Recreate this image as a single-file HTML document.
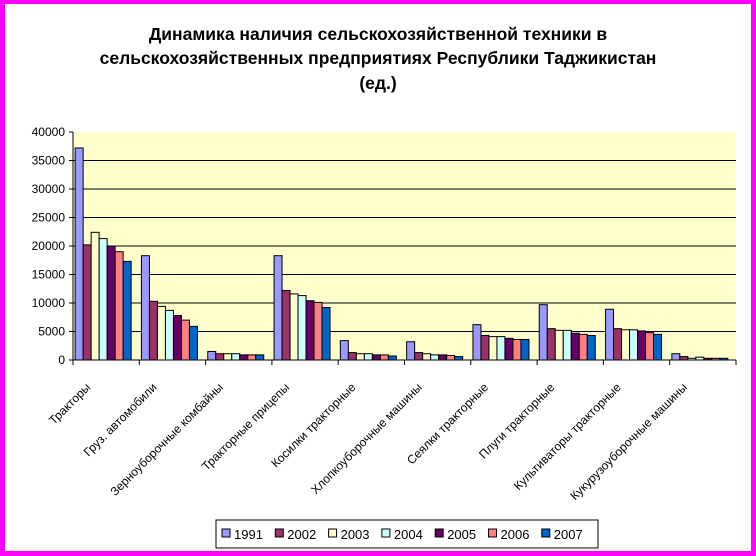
<!DOCTYPE html>
<html><head><meta charset="utf-8"><style>
body{margin:0;background:#fff}
#wrap{position:relative;width:756px;height:556px;box-sizing:border-box;border:5px solid #ff00ff;border-top-width:4px;background:#fff;font-family:"Liberation Sans",Arial,sans-serif}
</style></head><body>
<div id="wrap">
<svg id="chart" width="746" height="548" style="position:absolute;left:0;top:0"></svg>
</div>
<script>
const categories=["Тракторы","Груз. автомобили","Зерноуборочные комбайны","Тракторные прицепы","Косилки тракторные","Хлопкоуборочные машины","Сеялки тракторные","Плуги тракторные","Культиваторы тракторные","Кукурузоуборочные машины"];
const years=["1991","2002","2003","2004","2005","2006","2007"];
const colors=["#9999ff","#993366","#ffffcc","#ccffff","#660066","#ff8080","#0066cc"];
const yTicks=[0,5000,10000,15000,20000,25000,30000,35000,40000];
const s1991=[37200,18300,1500,18300,3400,3200,6200,9700,8900,1100];
const s2002=[20200,10300,1100,12200,1300,1300,4300,5500,5500,600];
const s2003=[22400,9400,1100,11600,1100,1100,4100,5200,5300,300];
const s2004=[21300,8700,1100,11300,1100,900,4100,5200,5300,500];
const s2005=[20000,7800,900,10400,900,900,3800,4700,5100,300];
const s2006=[19000,7000,900,10100,900,800,3600,4500,4800,300];
const s2007=[17300,5900,900,9200,700,600,3600,4300,4500,300];
const series=[s1991,s2002,s2003,s2004,s2005,s2006,s2007];

const NS="http://www.w3.org/2000/svg";
const svg=document.getElementById('chart');
const ox=-5, oy=-4;
const X0=73+ox, X1=736+ox, Y0=360+oy, Y1=132+oy, YMAX=40000;
const y=v=>Y0-(v/YMAX)*(Y0-Y1);
const gw=(X1-X0)/categories.length;
const x=i=>X0+i*gw;
function el(t,a,txt){const e=document.createElementNS(NS,t);for(const k in a)e.setAttribute(k,a[k]);if(txt!==undefined)e.textContent=txt;svg.appendChild(e);return e;}

const title=el('text',{x:378+ox,y:40+oy,'text-anchor':'middle','font-size':'17.5','font-weight':'bold',fill:'#000'});


[["Динамика наличия  сельскохозяйственной техники в",40],["сельскохозяйственных предприятиях  Республики Таджикистан",64],["(ед.)",89]].forEach(([t,yy])=>{const ts=document.createElementNS(NS,'tspan');ts.setAttribute('x',378+ox);ts.setAttribute('y',yy+oy);ts.textContent=t;title.appendChild(ts);});

const bg=el('rect',{x:X0,y:Y1,width:X1-X0,height:Y0-Y1,fill:'#ffffcc'});



yTicks.forEach(v=>{
  if(v>0&&v<YMAX){const g=el('line',{x1:X0,x2:X1,y1:y(v),y2:y(v),stroke:'#000','stroke-width':1});
  
  }
  const tk=el('line',{x1:X0-4,x2:X0,y1:y(v),y2:y(v),stroke:'#000'});
  
  
  const t=el('text',{x:X0-8,y:y(v)+4,'text-anchor':'end','font-size':'12',fill:'#000'},String(v));
  
  
});

const bw=8, off=(gw-bw*7)/2-3;
categories.forEach((c,i)=>{
  series.forEach((s,j)=>{
    const b=el('rect',{x:x(i)+off+j*bw,y:y(s[i]),width:bw,height:Y0-y(s[i]),fill:colors[j],stroke:'#000','stroke-width':1});
    
    
  });
  const tk=el('line',{x1:x(i),x2:x(i),y1:Y0,y2:Y0+5,stroke:'#000'});
  
  
  const cx=x(i)+gw/2-15, cy=Y0+28;
  const t=el('text',{x:cx,y:cy,'text-anchor':'end','font-size':'12',fill:'#000',transform:`rotate(-45 ${cx} ${cy})`},c);
  
  
});
const lt=el('line',{x1:X1,x2:X1,y1:Y0,y2:Y0+5,stroke:'#000'});


const ax=el('line',{x1:X0,x2:X0,y1:Y1,y2:Y0,stroke:'#000'});


const axx=el('line',{x1:X0,x2:X1,y1:Y0,y2:Y0,stroke:'#000'});



const lg=el('rect',{x:216+ox,y:520+oy,width:382,height:28,fill:'#fff',stroke:'#000'});


let lx=222+ox;
years.forEach((yr,j)=>{
  const sw=el('rect',{x:lx,y:529+oy,width:8,height:8,fill:colors[j],stroke:'#000'});
  
  
  const t=el('text',{x:lx+12,y:539+oy,'font-size':'13',fill:'#000'},yr);
  
  
  lx+=53.3;
});
</script>
</body></html>
